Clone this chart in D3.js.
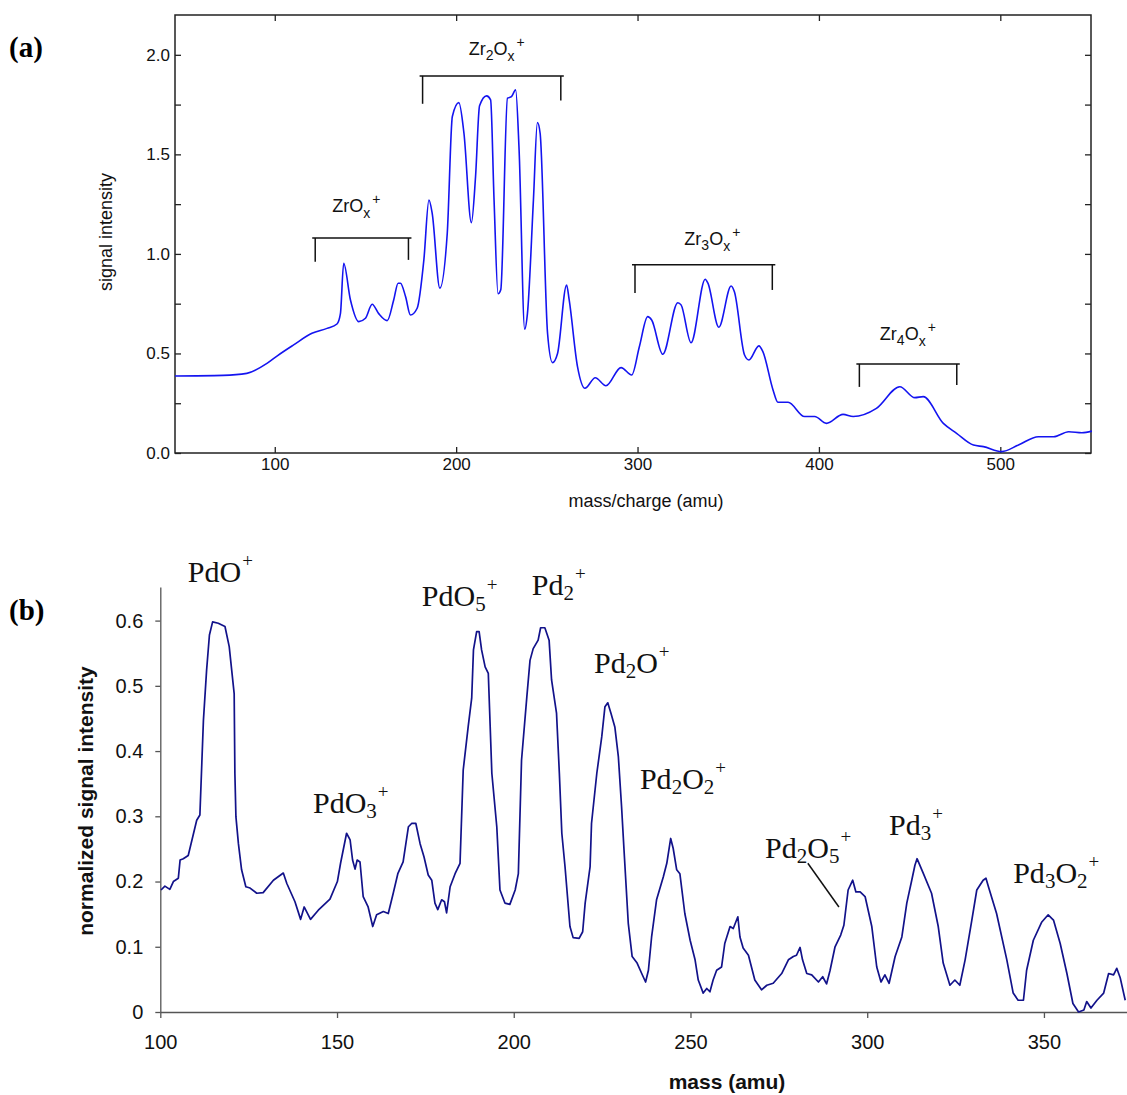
<!DOCTYPE html>
<html>
<head>
  <meta charset="utf-8">
  <title>ZrOx and PdOx cluster spectra</title>
  <script src="https://d3js.org/d3.v7.min.js"></script>
  <style>
    body { margin: 0; background: white; }
    svg { display: block; }
  </style>
</head>
<body>
<div id="container"></div>
<script>
// ---- panel (a) : ZrOx+ spectrum ----
const massA = [45, 71.5, 84.6, 95.7, 101.2, 110.4, 120.5, 128.8, 134.3, 136.2, 138.0, 141.7, 146.3, 150, 153.7,
  157.3, 162, 165.6, 168, 169.3, 172.1, 174.8, 178.5, 182.2, 185, 186.8, 191, 195.1, 197.9, 201.5, 204.3,
  208.4, 210.7, 212.9, 216.8, 219, 220.9, 223.1, 224.6, 228.3, 230.5, 232.8, 234.7, 237.8, 239.3, 242.6,
  244.8, 246.3, 250.4, 253.1, 255.9, 260.9, 262.3, 266.9, 271, 276.7, 282.6, 290.9, 296.8, 301, 305.6,
  307.8, 313.9, 322.2, 324, 329.5, 337.3, 338.8, 344.8, 351.6, 353.4, 359, 361.4, 366.9, 369.1, 374.7,
  377.4, 383, 392.1, 397.7, 404.1, 413.3, 418.9, 431.7, 444.6, 452.9, 457.5, 468.6, 475.9, 485.2, 490.7,
  500.8, 510, 521, 529.4, 537.7, 545, 550.5];
const signalA = [0.387, 0.39, 0.40, 0.45, 0.487, 0.543, 0.601, 0.626, 0.648, 0.70, 0.953, 0.77, 0.66, 0.677, 0.747,
  0.70, 0.665, 0.77, 0.853, 0.853, 0.786, 0.693, 0.727, 0.97, 1.271, 1.204, 0.828, 1.104, 1.69, 1.76, 1.606,
  1.157, 1.389, 1.744, 1.794, 1.774, 1.27, 0.80, 0.82, 1.782, 1.79, 1.824, 1.523, 0.622, 0.70, 1.27,
  1.66, 1.606, 0.60, 0.454, 0.50, 0.844, 0.77, 0.434, 0.325, 0.378, 0.338, 0.429, 0.392, 0.534, 0.685,
  0.668, 0.496, 0.755, 0.744, 0.554, 0.873, 0.853, 0.632, 0.839, 0.81, 0.492, 0.467, 0.538, 0.509, 0.317,
  0.255, 0.255, 0.183, 0.183, 0.149, 0.194, 0.183, 0.224, 0.333, 0.278, 0.283, 0.149, 0.099, 0.04, 0.032,
  0.007, 0.04, 0.082, 0.082, 0.107, 0.102, 0.11];

const ticksA_x = [100, 200, 300, 400, 500];
const ticksA_y = [0, 0.25, 0.5, 0.75, 1.0, 1.25, 1.5, 1.75, 2.0];

// brackets over the cluster groups
const groupNames = [["Zr", "", "O", "x", "+"], ["Zr", "2", "O", "x", "+"], ["Zr", "3", "O", "x", "+"], ["Zr", "4", "O", "x", "+"]];
const groupLabelMass = [131.7, 206.9, 325.8, 433.6];
const groupLabelSignal = [1.211, 2.0, 1.045, 0.568];
const bracketFrom = [122.3, 181.5, 298.6, 422.3];
const bracketTo = [173.7, 257.7, 374.3, 476];
const bracketTop = [1.08, 1.894, 0.945, 0.447];
const bracketFromEnd = [0.96, 1.754, 0.804, 0.332];
const bracketToEnd = [0.97, 1.77, 0.819, 0.342];

// ---- panel (b) : PdOx+ spectrum ----
const massB = [100.2, 101.3, 102.7, 103.7, 105.1, 105.6, 106.5, 107.9, 110.3, 111.2, 112.2, 113.1, 113.9, 114.8,
  116.4, 118.3, 119.5, 120.9, 121.1, 121.4, 122.1, 123.0, 124.2, 125.4, 127.3, 129.1, 132, 134.8, 135.8,
  138.1, 139.7, 140.7, 142.5, 144.7, 148, 150.1, 151, 152.7, 153.7, 154.4, 155.1, 155.7, 156.5, 157.4,
  158.8, 160.1, 161.2, 163.1, 164.5, 165.9, 167.2, 168.7, 170.2, 171.1, 172.3, 173.5, 174.6, 175.8, 176.8,
  177.7, 178.5, 179.6, 180.4, 181.0, 182.0, 183.4, 184.8, 185.7, 187.1, 188.1, 188.6, 189.5, 190.2, 190.9,
  191.9, 192.8, 193.8, 195.2, 196.1, 197.5, 198.9, 200.4, 201.3, 202.2, 203.7, 204.6, 205.5, 206.9, 207.6,
  208.8, 210.0, 210.7, 212.1, 212.9, 213.6, 214.5, 215.9, 216.8, 218.5, 219.5, 220.2, 221.6, 222.0, 223.5,
  224.9, 225.8, 226.6, 227.5, 228.6, 229.6, 230.5, 231.2, 232.4, 233.5, 234.9, 236.2, 237.3, 238.1, 239.0,
  240.4, 242.3, 243.3, 244.4, 245.1, 246.1, 247.0, 248.4, 249.9, 251.3, 252.2, 253.6, 254.6, 255.5, 256.4,
  257.4, 258.8, 259.7, 261.2, 262.1, 263.4, 264.0, 264.9, 266.4, 268.2, 270.1, 271.6, 273.4, 275.8, 277.7,
  279.1, 280.0, 281.0, 281.7, 282.9, 284.3, 286.2, 287.4, 288.5, 289.5, 290.9, 292.5, 293.4, 294.6, 295.9,
  296.8, 298.0, 299.4, 301.3, 302.7, 303.9, 305.0, 306.2, 307.9, 309.8, 311.2, 312.6, 313.5, 314.1, 315.9,
  318.2, 320.1, 321.5, 323.4, 324.8, 326.2, 327.7, 329.6, 331.0, 332.8, 333.6, 334.3, 336.6, 339.5, 341.3,
  342.7, 344.2, 345.1, 347.0, 349.4, 351.2, 352.7, 354.6, 356.5, 358.2, 359.8, 361.3, 362.1, 363.3, 365.0,
  366.9, 368.3, 369.7, 370.6, 371.6, 373.0];
const signalB = [0.187, 0.193, 0.188, 0.20, 0.205, 0.233, 0.235, 0.24, 0.294, 0.302, 0.447, 0.524, 0.578, 0.598,
  0.596, 0.591, 0.56, 0.488, 0.366, 0.299, 0.258, 0.218, 0.192, 0.19, 0.182, 0.183, 0.202, 0.213, 0.197,
  0.169, 0.142, 0.161, 0.142, 0.156, 0.173, 0.20, 0.228, 0.274, 0.264, 0.233, 0.219, 0.233, 0.23, 0.177,
  0.161, 0.131, 0.149, 0.154, 0.151, 0.182, 0.212, 0.230, 0.284, 0.289, 0.289, 0.258, 0.238, 0.21, 0.202,
  0.167, 0.157, 0.172, 0.169, 0.152, 0.192, 0.212, 0.228, 0.371, 0.437, 0.481, 0.555, 0.583, 0.583, 0.555,
  0.529, 0.519, 0.366, 0.284, 0.187, 0.167, 0.165, 0.187, 0.212, 0.386, 0.483, 0.539, 0.557, 0.57, 0.589,
  0.589, 0.57, 0.509, 0.458, 0.366, 0.274, 0.223, 0.131, 0.114, 0.113, 0.123, 0.167, 0.223, 0.289, 0.366,
  0.422, 0.468, 0.474, 0.458, 0.437, 0.391, 0.315, 0.248, 0.136, 0.085, 0.075, 0.059, 0.046, 0.064, 0.115,
  0.172, 0.207, 0.228, 0.266, 0.251, 0.218, 0.212, 0.151, 0.11, 0.08, 0.049, 0.029, 0.036, 0.031, 0.049,
  0.064, 0.069, 0.105, 0.131, 0.128, 0.146, 0.115, 0.098, 0.087, 0.049, 0.034, 0.041, 0.044, 0.059, 0.08,
  0.085, 0.087, 0.099, 0.08, 0.059, 0.057, 0.046, 0.054, 0.043, 0.064, 0.10, 0.118, 0.133, 0.187, 0.202,
  0.184, 0.184, 0.177, 0.131, 0.069, 0.046, 0.057, 0.044, 0.085, 0.115, 0.167, 0.202, 0.225, 0.235, 0.212,
  0.182, 0.131, 0.075, 0.041, 0.049, 0.041, 0.08, 0.141, 0.187, 0.202, 0.205, 0.192, 0.151, 0.08, 0.029,
  0.018, 0.018, 0.064, 0.11, 0.138, 0.149, 0.141, 0.105, 0.059, 0.013, 0.0, 0.003, 0.016, 0.006, 0.018,
  0.029, 0.059, 0.057, 0.067, 0.052, 0.018];

const ticksB_x = [100, 150, 200, 250, 300, 350];
const ticksB_y = [0, 0.1, 0.2, 0.3, 0.4, 0.5, 0.6];

// peak labels: [text, kind] pieces, kind "" normal, "sub" or "sup"
const peakNames = [
  [["PdO", ""], ["+", "sup"]],
  [["PdO", ""], ["3", "sub"], ["+", "sup"]],
  [["PdO", ""], ["5", "sub"], ["+", "sup"]],
  [["Pd", ""], ["2", "sub"], ["+", "sup"]],
  [["Pd", ""], ["2", "sub"], ["O", ""], ["+", "sup"]],
  [["Pd", ""], ["2", "sub"], ["O", ""], ["2", "sub"], ["+", "sup"]],
  [["Pd", ""], ["2", "sub"], ["O", ""], ["5", "sub"], ["+", "sup"]],
  [["Pd", ""], ["3", "sub"], ["+", "sup"]],
  [["Pd", ""], ["3", "sub"], ["O", ""], ["2", "sub"], ["+", "sup"]]
];
const peakLabelMass = [107.8, 143.2, 174.0, 205.1, 222.7, 235.7, 271.1, 306.2, 341.3];
const peakLabelSignal = [0.659, 0.305, 0.623, 0.639, 0.519, 0.342, 0.236, 0.271, 0.198];
const leaderMass = [283.2, 292.0];
const leaderSignal = [0.228, 0.161];

const width = 1127, height = 1095;

var svg = d3.select("#container")
  .append("svg")
  .attr("width", width)
  .attr("height", height)
  .style("background-color", "white");

// ================= panel (a) =================
var xA = d3.scaleLinear().domain([45, 550]).range([175, 1091]);
var yA = d3.scaleLinear().domain([0, 2.2]).range([453, 15]);

var gA = svg.append("g")
  .style("font-family", "'Liberation Sans', Arial, sans-serif");

function strip(g) {
  g.select(".domain").remove();
  g.selectAll(".tick line").attr("stroke", "#222").attr("stroke-width", 1.3);
}

gA.append("g")
  .attr("transform", "translate(0,453)")
  .call(d3.axisBottom(xA).tickValues(ticksA_x).tickSizeInner(-6).tickSizeOuter(0).tickPadding(5))
  .call(strip)
  .selectAll("text").style("font-size", "17px").attr("fill", "#111");

gA.append("g")
  .attr("transform", "translate(0,15)")
  .call(d3.axisTop(xA).tickValues(ticksA_x).tickSizeInner(-6).tickSizeOuter(0).tickFormat(""))
  .call(strip);

gA.append("g")
  .attr("transform", "translate(175,0)")
  .call(d3.axisLeft(yA).tickValues(ticksA_y).tickSizeInner(-6).tickSizeOuter(0).tickPadding(5)
    .tickFormat(d => (Math.round(d * 100) % 50 === 0) ? d3.format(".1f")(d) : ""))
  .call(strip)
  .selectAll("text").style("font-size", "17px").attr("fill", "#111");

gA.append("g")
  .attr("transform", "translate(1091,0)")
  .call(d3.axisRight(yA).tickValues(ticksA_y).tickSizeInner(-6).tickSizeOuter(0).tickFormat(""))
  .call(strip);

gA.append("rect")
  .attr("x", 175).attr("y", 15)
  .attr("width", 1091 - 175).attr("height", 453 - 15)
  .attr("fill", "none").attr("stroke", "#222").attr("stroke-width", 1.5);

gA.append("path")
  .datum(d3.range(massA.length))
  .attr("fill", "none")
  .attr("stroke", "#1414f0")
  .attr("stroke-width", 1.6)
  .attr("d", d3.line().x(i => xA(massA[i])).y(i => yA(signalA[i])).curve(d3.curveMonotoneX));

// brackets
groupNames.forEach(function(name, i) {
  var b = gA.append("g").attr("stroke", "#111").attr("stroke-width", 1.5).attr("fill", "none");
  b.append("line")
    .attr("x1", xA(bracketFrom[i]) - 3).attr("x2", xA(bracketTo[i]) + 3)
    .attr("y1", yA(bracketTop[i])).attr("y2", yA(bracketTop[i]));
  b.append("line")
    .attr("x1", xA(bracketFrom[i])).attr("x2", xA(bracketFrom[i]))
    .attr("y1", yA(bracketTop[i])).attr("y2", yA(bracketFromEnd[i]));
  b.append("line")
    .attr("x1", xA(bracketTo[i])).attr("x2", xA(bracketTo[i]))
    .attr("y1", yA(bracketTop[i])).attr("y2", yA(bracketToEnd[i]));

  var t = gA.append("text")
    .attr("x", xA(groupLabelMass[i]))
    .attr("y", yA(groupLabelSignal[i]))
    .style("font-size", "18px")
    .attr("fill", "#111");
  t.append("tspan").text(name[0]);
  if (name[1]) t.append("tspan").attr("dy", 5).style("font-size", "14px").text(name[1]);
  t.append("tspan").attr("dy", name[1] ? -5 : 0).text(name[2]);
  t.append("tspan").attr("dy", 6).style("font-size", "14px").text(name[3]);
  t.append("tspan").attr("dy", -14).attr("dx", 2).style("font-size", "14px").text(name[4]);
});

gA.append("text")
  .attr("transform", "translate(112,232) rotate(-90)")
  .attr("text-anchor", "middle")
  .style("font-size", "18px")
  .attr("fill", "#111")
  .text("signal intensity");

gA.append("text")
  .attr("x", 646).attr("y", 507)
  .attr("text-anchor", "middle")
  .style("font-size", "18px")
  .attr("fill", "#111")
  .text("mass/charge (amu)");

svg.append("text")
  .attr("x", 9).attr("y", 57)
  .style("font-family", "'Liberation Serif', 'Times New Roman', serif")
  .style("font-weight", "bold")
  .style("font-size", "29px")
  .text("(a)");

// ================= panel (b) =================
var xB = d3.scaleLinear().domain([100, 373.5]).range([160.3, 1127]);
var yB = d3.scaleLinear().domain([0, 0.6515]).range([1012, 587]);

var gB = svg.append("g")
  .style("font-family", "'Liberation Sans', Arial, sans-serif");

var axB = gB.append("g")
  .attr("transform", "translate(0,1012)")
  .call(d3.axisBottom(xB).tickValues(ticksB_x).tickSizeInner(6).tickSizeOuter(0).tickPadding(17));
axB.selectAll("text").style("font-size", "20px").attr("fill", "#111");

var ayB = gB.append("g")
  .attr("transform", "translate(160.3,0)")
  .call(d3.axisLeft(yB).tickValues(ticksB_y).tickSizeInner(5).tickSizeOuter(0).tickPadding(12)
    .tickFormat(d => d === 0 ? "0" : d3.format(".1f")(d)));
ayB.selectAll("text").style("font-size", "20px").attr("fill", "#111");

gB.selectAll(".domain, .tick line").attr("stroke", "#555").attr("stroke-width", 1.3);

gB.append("path")
  .datum(d3.range(massB.length))
  .attr("fill", "none")
  .attr("stroke", "#12128a")
  .attr("stroke-width", 1.7)
  .attr("stroke-linejoin", "round")
  .attr("d", d3.line().x(i => xB(massB[i])).y(i => yB(signalB[i])));

gB.append("line")
  .attr("x1", xB(leaderMass[0])).attr("y1", yB(leaderSignal[0]))
  .attr("x2", xB(leaderMass[1])).attr("y2", yB(leaderSignal[1]))
  .attr("stroke", "#111").attr("stroke-width", 1.5);

peakNames.forEach(function(parts, i) {
  var t = gB.append("text")
    .attr("x", xB(peakLabelMass[i]))
    .attr("y", yB(peakLabelSignal[i]))
    .style("font-family", "'Liberation Serif', 'Times New Roman', serif")
    .style("font-size", "30px")
    .attr("fill", "#111");
  var shift = 0;
  parts.forEach(function(p) {
    var s = t.append("tspan").text(p[0]);
    if (p[1] === "sub") {
      s.attr("dy", 5 - shift).style("font-size", "21px");
      shift = 5;
    } else if (p[1] === "sup") {
      s.attr("dy", -15 - shift).attr("dx", 1).style("font-size", "19px");
      shift = -15;
    } else {
      s.attr("dy", -shift);
      shift = 0;
    }
  });
});

gB.append("text")
  .attr("transform", "translate(93,801) rotate(-90)")
  .attr("text-anchor", "middle")
  .style("font-size", "21px")
  .style("font-weight", "bold")
  .attr("fill", "#111")
  .text("normalized signal intensity");

gB.append("text")
  .attr("x", 727).attr("y", 1089)
  .attr("text-anchor", "middle")
  .style("font-size", "21px")
  .style("font-weight", "bold")
  .attr("fill", "#111")
  .text("mass (amu)");

svg.append("text")
  .attr("x", 9).attr("y", 620)
  .style("font-family", "'Liberation Serif', 'Times New Roman', serif")
  .style("font-weight", "bold")
  .style("font-size", "29px")
  .text("(b)");
</script>
</body>
</html>
